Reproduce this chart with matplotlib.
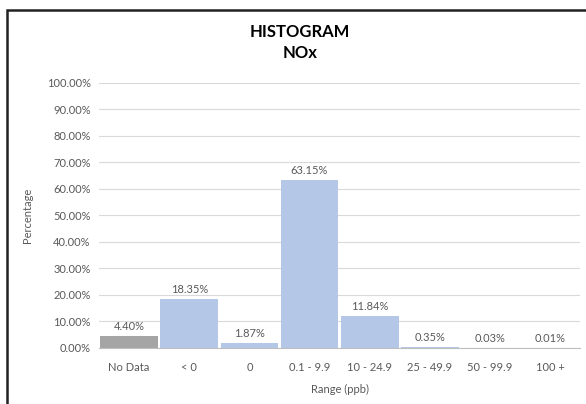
import matplotlib.pyplot as plt
from matplotlib.patches import Rectangle

# Dados do histograma
categorias = ['No Data', '< 0', '0', '0.1 - 9.9', '10 - 24.9', '25 - 49.9', '50 - 99.9', '100 +']
percentuais = [4.40, 18.35, 1.87, 63.15, 11.84, 0.35, 0.03, 0.01]
cores = ['#A5A5A5', '#B4C7E7', '#B4C7E7', '#B4C7E7', '#B4C7E7', '#B4C7E7', '#B4C7E7', '#B4C7E7']

plt.rcParams['font.family'] = ['Lato', 'DejaVu Sans']
cinza = '#595959'

fig = plt.figure(figsize=(5.86, 4.04), dpi=100)
ax = fig.add_axes([0.169, 0.139, 0.821, 0.656])

x = range(len(categorias))
ax.bar(x, [p / 100 for p in percentuais], width=0.96, color=cores, zorder=3)

for i, p in enumerate(percentuais):
    ax.annotate(f'{p:.2f}%', (i, p / 100), xytext=(0, 3), textcoords='offset points',
                ha='center', va='bottom', fontsize=8, color=cinza)

ax.set_xlim(-0.5, len(categorias) - 0.5)
ax.set_ylim(0, 1.0)
ax.set_yticks([i / 10 for i in range(11)])
ax.set_yticklabels([f'{i * 10:.2f}%' for i in range(11)])
ax.set_xticks(list(x))
ax.set_xticklabels(categorias)
ax.tick_params(axis='y', length=0, labelsize=8, labelcolor=cinza, pad=6)
ax.tick_params(axis='x', length=0, labelsize=8, labelcolor=cinza, pad=10)

ax.grid(axis='y', color='#D9D9D9', linewidth=0.8, zorder=0)
for s in ['top', 'right', 'left']:
    ax.spines[s].set_visible(False)
ax.spines['bottom'].set_color('#BFBFBF')
ax.spines['bottom'].set_zorder(4)

ax.set_ylabel('Percentage', fontsize=8, color=cinza, labelpad=10)
ax.set_xlabel('Range (ppb)', fontsize=8, color=cinza, labelpad=8)

fig.text(0.512, 0.922, 'HISTOGRAM', ha='center', va='center', fontsize=12, fontweight='bold', color='black')
fig.text(0.512, 0.868, 'NOx', ha='center', va='center', fontsize=12, fontweight='bold', color='black')

# moldura preta (lados direito e inferior ficam fora da imagem)
fig.add_artist(Rectangle((0.012, -0.1), 1.1, 1.075, transform=fig.transFigure,
                         fill=False, edgecolor='#222222', linewidth=1.8))

fig.savefig('out.png', dpi=100)
